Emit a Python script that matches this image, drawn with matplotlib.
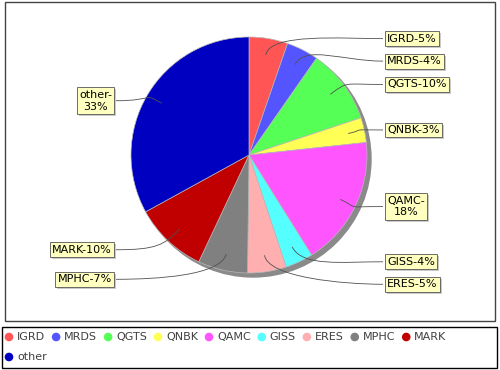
import numpy as np
import matplotlib
matplotlib.use("Agg")
import matplotlib.pyplot as plt
from matplotlib.patches import Rectangle, Circle
from matplotlib.path import Path
from matplotlib.patches import PathPatch

# data
names = ["IGRD", "MRDS", "QGTS", "QNBK", "QAMC", "GISS", "ERES", "MPHC", "MARK", "other"]
values = [5.3, 4.4, 10.2, 3.4, 17.8, 3.8, 5.3, 6.8, 10.0, 33.0]
colors = ["#FF5555", "#5555FF", "#55FF55", "#FFFF55", "#FF55FF",
          "#55FFFF", "#FFAFAF", "#808080", "#C00000", "#0000C0"]
wrapped = ["QAMC", "other"]

plt.rcParams['font.family'] = ['DejaVu Sans']

fig = plt.figure(figsize=(5, 3.7), dpi=100)
ax = fig.add_axes([0, 0, 1, 1])

cx, cy, r = 249, 155, 118

# shadow
ax.add_patch(Circle((cx + 4, cy + 4), r, color="#8a8a8a", zorder=1))

ax.pie(values, colors=colors, startangle=-90, counterclock=True,
       center=(cx, cy), radius=r,
       wedgeprops=dict(edgecolor="#b8b8b8", linewidth=0.5, zorder=2))

ax.set_xlim(0, 500)
ax.set_ylim(370, 0)
ax.set_aspect('auto')
ax.axis('off')

# frames
ax.add_patch(Rectangle((5, 2), 490, 319, fill=False, ec="#444444", lw=1, zorder=0))
ax.add_patch(Rectangle((2, 327), 495, 41, fill=False, ec="black", lw=1, zorder=0))

# labels
total = float(sum(values))
cum = np.cumsum(values) / total
mids = (cum - np.array(values) / total / 2) * 2 * np.pi
pcts = [int(round(v / total * 100)) for v in values]

right, left = [], []
for i, th in enumerate(mids):
    if np.sin(th) >= 0:
        right.append([i, cy - 1.0 * r * np.cos(th)])
    else:
        left.append([i, cy - 1.02 * r * np.cos(th)])

gap = 22.5
for side in (right, left):
    side.sort(key=lambda t: t[1])
    for k in range(1, len(side)):
        if side[k][1] < side[k - 1][1] + gap:
            side[k][1] = side[k - 1][1] + gap
for item in left:
    item[1] += 7

renderer = fig.canvas.get_renderer()
inv = ax.transData.inverted()

def draw_label(i, ly, is_right):
    th = mids[i]
    txt = f"{names[i]}-{pcts[i]}%"
    if names[i] in wrapped:
        txt = f"{names[i]}-\n{pcts[i]}%"
    bx = 384 if is_right else 115
    ha = 'left' if is_right else 'right'
    tx = bx + 3 if is_right else bx - 3
    t = ax.text(tx, ly, txt, color='black', fontsize=8, ha=ha, va='center',
                multialignment='center', zorder=6,
                bbox=dict(boxstyle='square,pad=0.22', fc='#FFFFC0', ec='#555555', lw=0.6))
    # box shadow, 2px right and down
    t.update_bbox_position_size(renderer)
    ext = t.get_bbox_patch().get_window_extent(renderer)
    (x0, y0), (x1, y1) = inv.transform([(ext.x0, ext.y0), (ext.x1, ext.y1)])
    ax.add_patch(Rectangle((min(x0, x1) + 2, min(y0, y1) + 2), abs(x1 - x0), abs(y1 - y0),
                           fc='#979797', ec='none', alpha=0.5, zorder=5))
    # link curve
    p0 = (cx + 0.86 * r * np.sin(th), cy - 0.86 * r * np.cos(th))
    p1 = (cx + 1.05 * r * np.sin(th), cy - 1.05 * r * np.cos(th))
    p3 = (bx - 1 if is_right else bx + 1, ly)
    p2 = (p3[0] - 40 if is_right else p3[0] + 40, ly)
    path = Path([p0, p1, p2, p3], [Path.MOVETO, Path.CURVE4, Path.CURVE4, Path.CURVE4])
    ax.add_patch(PathPatch(path, fill=False, ec='#505050', lw=0.6, zorder=4))

for i, ly in right:
    draw_label(i, ly, True)
for i, ly in left:
    draw_label(i, ly, False)

# legend, flowed like the original
x, y = 5, 337
for name, c in zip(names, colors):
    t = ax.text(0, 0, name, fontsize=8)
    tw = t.get_window_extent(renderer).width
    t.remove()
    if x + 12 + tw > 495:
        x, y = 5, y + 20
    ax.add_patch(Circle((x + 4, y), 3.6, color=c, zorder=3))
    ax.text(x + 12, y, name, fontsize=8, color='#404040', va='center', ha='left')
    x += 12 + tw + 7

fig.savefig("out.png", dpi=100)
